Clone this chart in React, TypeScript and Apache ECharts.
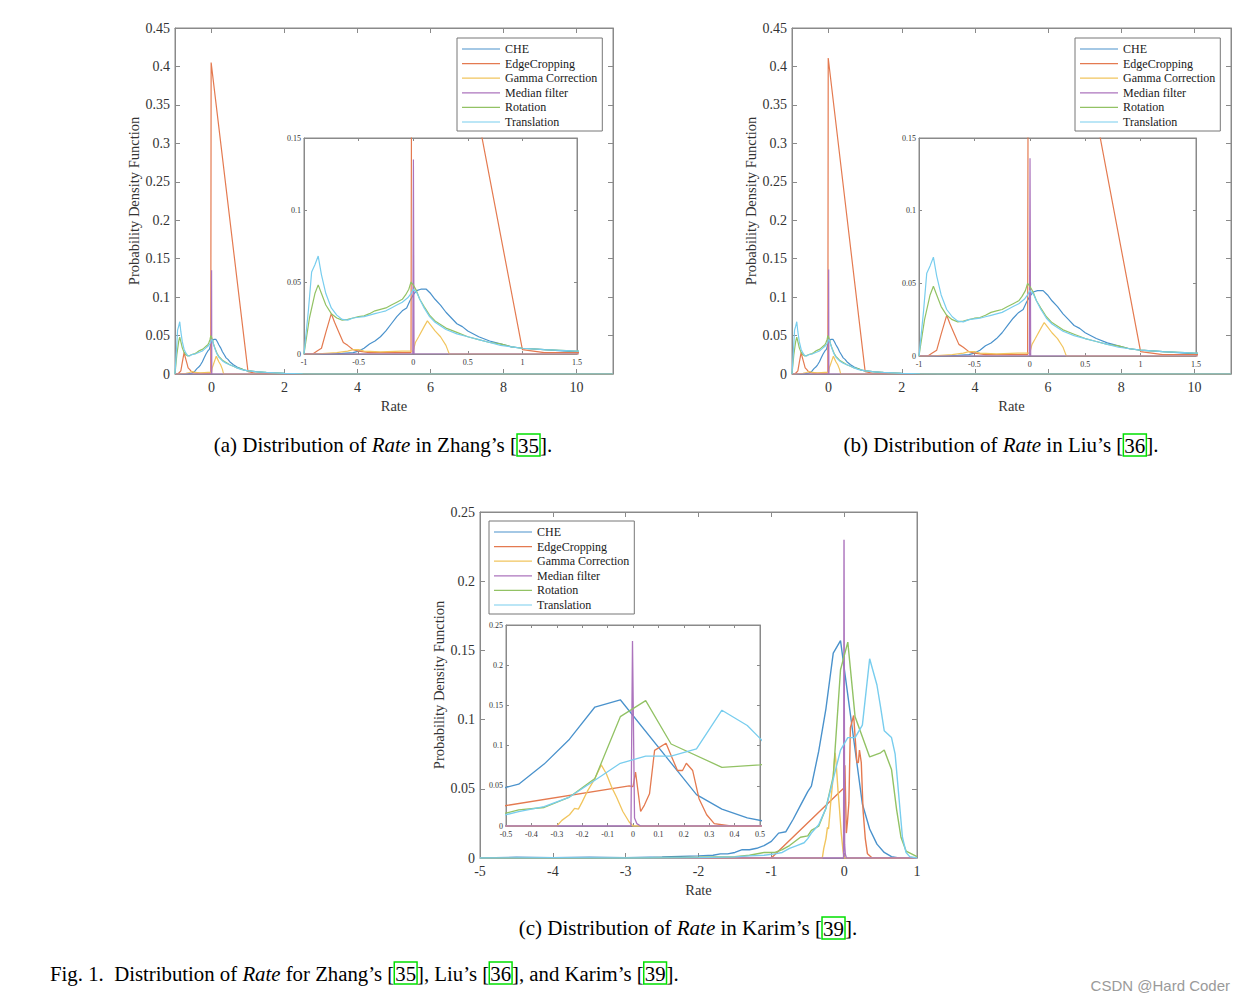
import React, { useEffect, useRef } from 'react';
import * as echarts from 'echarts';

const SERIES_NAMES = ['CHE', 'EdgeCropping', 'Gamma Correction', 'Median filter', 'Rotation', 'Translation'];
const COLORS = ['#4a92cc', '#e47a50', '#f1c55e', '#ac74bd', '#92c264', '#78cdee'];

// ---- Panel (a): Zhang's ----
const CHE_A = [[-1,0],[-0.8,0],[-0.65,0.0005],[-0.55,0.001],[-0.5,0.002],[-0.45,0.004],[-0.4,0.007],[-0.35,0.009],[-0.3,0.012],[-0.25,0.016],[-0.2,0.021],[-0.15,0.026],[-0.1,0.03],[-0.06,0.032],[-0.03,0.037],[0,0.041],[0.03,0.044],[0.07,0.045],[0.12,0.045],[0.16,0.042],[0.2,0.038],[0.25,0.034],[0.3,0.029],[0.35,0.025],[0.4,0.021],[0.45,0.019],[0.5,0.016],[0.6,0.012],[0.7,0.009],[0.8,0.007],[0.9,0.005],[1.0,0.004],[1.2,0.003],[1.5,0.0015],[2,0.0008],[2.5,0.0003],[3,0.0001],[4,0],[11,0]];
const EDGE_A = [[-1,0],[-0.92,0],[-0.88,0.002],[-0.84,0.004],[-0.8,0.015],[-0.75,0.028],[-0.72,0.022],[-0.68,0.015],[-0.64,0.008],[-0.6,0.006],[-0.55,0.003],[-0.5,0.002],[-0.4,0.001],[-0.2,0.001],[-0.02,0.001],[-0.01,0.405],[1.0,0.003],[1.2,0.001],[11,0]];
const GAMMA_A = [[-1,0],[-0.9,0],[-0.7,0.001],[-0.6,0.002],[-0.55,0.003],[-0.5,0.003],[-0.45,0.002],[-0.3,0.0015],[-0.1,0.002],[-0.02,0.002],[0,0.002],[0.02,0.008],[0.05,0.012],[0.1,0.019],[0.13,0.023],[0.16,0.02],[0.2,0.016],[0.25,0.012],[0.3,0.006],[0.32,0.002],[0.33,0],[11,0]];
const MEDIAN_A = [[-1,0],[-0.004,0],[0.002,0.135],[0.008,0],[11,0]];
const ROT_A = [[-1,0],[-0.95,0.025],[-0.9,0.042],[-0.87,0.048],[-0.84,0.042],[-0.8,0.034],[-0.75,0.028],[-0.7,0.025],[-0.65,0.0235],[-0.6,0.024],[-0.55,0.025],[-0.5,0.026],[-0.45,0.0265],[-0.4,0.028],[-0.35,0.03],[-0.3,0.031],[-0.25,0.032],[-0.2,0.034],[-0.15,0.036],[-0.1,0.038],[-0.07,0.041],[-0.04,0.045],[-0.02,0.05],[0,0.048],[0.03,0.044],[0.06,0.038],[0.1,0.033],[0.15,0.027],[0.2,0.023],[0.3,0.018],[0.4,0.015],[0.5,0.012],[0.6,0.01],[0.7,0.008],[0.8,0.007],[0.9,0.005],[1.0,0.004],[1.2,0.003],[1.5,0.002],[2,0.001],[2.5,0.0003],[3,0],[11,0]];
const TRANS_A = [[-1,0],[-0.96,0.03],[-0.93,0.057],[-0.9,0.062],[-0.87,0.068],[-0.84,0.055],[-0.8,0.042],[-0.75,0.032],[-0.7,0.027],[-0.65,0.024],[-0.6,0.0235],[-0.55,0.025],[-0.5,0.0255],[-0.45,0.026],[-0.4,0.027],[-0.35,0.028],[-0.3,0.029],[-0.25,0.03],[-0.2,0.032],[-0.15,0.034],[-0.1,0.036],[-0.05,0.039],[-0.02,0.042],[0,0.045],[0.03,0.043],[0.06,0.038],[0.1,0.032],[0.15,0.026],[0.2,0.022],[0.3,0.017],[0.4,0.014],[0.5,0.012],[0.6,0.01],[0.7,0.008],[0.8,0.006],[0.9,0.005],[1.0,0.004],[1.2,0.003],[1.5,0.002],[2,0.0008],[2.5,0.0003],[3,0],[11,0]];

// ---- Panel (b): Liu's ----
const CHE_B = CHE_A;
const EDGE_B = [[-1,0],[-0.92,0],[-0.88,0.002],[-0.84,0.004],[-0.8,0.015],[-0.75,0.028],[-0.72,0.022],[-0.68,0.015],[-0.64,0.008],[-0.6,0.006],[-0.55,0.003],[-0.5,0.002],[-0.4,0.001],[-0.2,0.001],[-0.02,0.001],[-0.01,0.411],[1.0,0.003],[1.2,0.001],[11,0]];
const GAMMA_B = GAMMA_A;
const MEDIAN_B = [[-1,0],[-0.004,0],[0.002,0.136],[0.008,0],[11,0]];
const ROT_B = ROT_A;
const TRANS_B = TRANS_A;

// ---- Panel (c): Karim's ----
const CHE_C = [[-5,0],[-4.5,0.0005],[-4,0.0003],[-3.5,0.0005],[-3,0.0003],[-2.5,0.0008],[-2,0.0015],[-1.8,0.002],[-1.7,0.003],[-1.6,0.003],[-1.5,0.004],[-1.4,0.006],[-1.3,0.006],[-1.2,0.007],[-1.1,0.009],[-1.0,0.012],[-0.9,0.018],[-0.8,0.019],[-0.7,0.028],[-0.6,0.038],[-0.5,0.048],[-0.45,0.052],[-0.35,0.077],[-0.25,0.108],[-0.15,0.148],[-0.05,0.157],[0.25,0.039],[0.35,0.021],[0.45,0.01],[0.55,0.004],[0.65,0.001],[0.75,0],[1,0]];
const EDGE_C = [[-5,0],[-1.0,0],[-0.015,0.05],[0,0.049],[0.01,0.067],[0.03,0.018],[0.045,0.026],[0.065,0.04],[0.085,0.094],[0.13,0.103],[0.155,0.084],[0.175,0.069],[0.195,0.069],[0.21,0.078],[0.235,0.069],[0.26,0.034],[0.29,0.014],[0.32,0.003],[0.385,0],[1,0]];
const GAMMA_C = [[-5,0],[-0.3,0],[-0.28,0.007],[-0.25,0.014],[-0.23,0.022],[-0.215,0.021],[-0.2,0.03],[-0.18,0.043],[-0.15,0.059],[-0.125,0.076],[-0.105,0.065],[-0.085,0.049],[-0.065,0.036],[-0.04,0.018],[-0.015,0.005],[0,0],[1,0]];
const MEDIAN_C = [[-5,0],[-0.008,0],[-0.002,0.23],[0.006,0.01],[0.015,0.003],[0.03,0],[1,0]];
const ROT_C = [[-5,0],[-3,0],[-2,0.0005],[-1.5,0.001],[-1.3,0.002],[-1.1,0.004],[-0.95,0.004],[-0.85,0.006],[-0.75,0.009],[-0.7,0.011],[-0.6,0.015],[-0.5,0.016],[-0.45,0.02],[-0.35,0.023],[-0.25,0.036],[-0.15,0.059],[-0.05,0.136],[0.05,0.156],[0.15,0.102],[0.35,0.073],[0.5,0.076],[0.55,0.078],[0.65,0.064],[0.72,0.035],[0.78,0.015],[0.85,0.005],[1.0,0.001]];
const TRANS_C = [[-5,0],[-4,0.0003],[-3,0],[-2,0.0003],[-1.5,0.0008],[-1.3,0.0015],[-1.1,0.002],[-0.95,0.003],[-0.85,0.004],[-0.75,0.007],[-0.65,0.009],[-0.55,0.011],[-0.5,0.014],[-0.45,0.018],[-0.35,0.024],[-0.25,0.036],[-0.15,0.057],[-0.05,0.078],[0.05,0.087],[0.15,0.087],[0.25,0.096],[0.35,0.144],[0.45,0.125],[0.5,0.109],[0.55,0.092],[0.65,0.087],[0.7,0.075],[0.75,0.045],[0.8,0.015],[0.85,0.004],[0.9,0.001],[1.0,0]];

const DATA_A = [CHE_A, EDGE_A, GAMMA_A, MEDIAN_A, ROT_A, TRANS_A];
const DATA_B = [CHE_B, EDGE_B, GAMMA_B, MEDIAN_B, ROT_B, TRANS_B];
const DATA_C = [CHE_C, EDGE_C, GAMMA_C, MEDIAN_C, ROT_C, TRANS_C];

const MAIN_X_TICKS_AB = [0, 2, 4, 6, 8, 10];

const AX = '#8a8a8a';
const LABEL = '#333';
const SERIF = "'Liberation Serif', 'Times New Roman', serif";

type Panel = {
  grid: { left: number; top: number; width: number; height: number };
  x: { min: number; max: number; interval?: number; custom?: number[] };
  y: { min: number; max: number; interval: number };
  data: number[][][];
  inset: boolean;
  lw: number;
};

const PANELS: Panel[] = [
  { grid: { left: 175, top: 28, width: 438, height: 346 }, x: { min: -1, max: 11, custom: MAIN_X_TICKS_AB }, y: { min: 0, max: 0.45, interval: 0.05 }, data: DATA_A, inset: false, lw: 1.2 },
  { grid: { left: 304, top: 138, width: 273, height: 216 }, x: { min: -1, max: 1.5, interval: 0.5 }, y: { min: 0, max: 0.15, interval: 0.05 }, data: DATA_A, inset: true, lw: 1.2 },
  { grid: { left: 792, top: 28, width: 439, height: 346 }, x: { min: -1, max: 11, custom: MAIN_X_TICKS_AB }, y: { min: 0, max: 0.45, interval: 0.05 }, data: DATA_B, inset: false, lw: 1.2 },
  { grid: { left: 919, top: 138, width: 277, height: 218 }, x: { min: -1, max: 1.5, interval: 0.5 }, y: { min: 0, max: 0.15, interval: 0.05 }, data: DATA_B, inset: true, lw: 1.2 },
  { grid: { left: 480, top: 512, width: 437, height: 346 }, x: { min: -5, max: 1, interval: 1 }, y: { min: 0, max: 0.25, interval: 0.05 }, data: DATA_C, inset: false, lw: 1.4 },
  { grid: { left: 506, top: 625, width: 254, height: 201 }, x: { min: -0.5, max: 0.5, interval: 0.1 }, y: { min: 0, max: 0.25, interval: 0.05 }, data: DATA_C, inset: true, lw: 1.3 },
];

const LEGEND_POS = [[457, 38], [1075, 38], [489, 521]];

function buildOption() {
  const grids: any[] = [];
  const xAxes: any[] = [];
  const yAxes: any[] = [];
  const series: any[] = [];

  PANELS.forEach((p, i) => {
    grids.push({
      ...p.grid,
      show: true,
      backgroundColor: '#fff',
      borderColor: AX,
      borderWidth: 1,
      outerBoundsMode: 'none',
      containLabel: false,
      z: p.inset ? 3 : 0,
    });
    const tickLen = p.inset ? 3 : 5;
    const fs = p.inset ? 8 : 14;
    const z = p.inset ? 4 : 0;
    const xBase: any = {
      type: 'value', gridIndex: i, min: p.x.min, max: p.x.max, z,
      axisLine: { show: true, onZero: false, lineStyle: { color: AX, width: 1 } },
      axisTick: { show: true, inside: true, length: tickLen, lineStyle: { color: AX } },
      splitLine: { show: false },
    };
    if (p.x.interval !== undefined) xBase.interval = p.x.interval;
    if (p.x.custom) xBase.axisTick.customValues = p.x.custom;
    xAxes.push({
      ...xBase,
      position: 'bottom',
      axisLabel: {
        show: true, color: LABEL, fontFamily: SERIF, fontSize: fs, margin: p.inset ? 4 : 6,
        showMinLabel: true, showMaxLabel: true,
        ...(p.x.custom ? { customValues: p.x.custom } : {}),
      },
      ...(p.inset ? {} : {
        name: 'Rate', nameLocation: 'middle', nameGap: 24,
        nameTextStyle: { fontFamily: SERIF, fontSize: 14.5, color: LABEL },
      }),
    });
    xAxes.push({ ...xBase, position: 'top', axisLabel: { show: false } });

    const yBase: any = {
      type: 'value', gridIndex: i, min: p.y.min, max: p.y.max, interval: p.y.interval, z,
      axisLine: { show: true, onZero: false, lineStyle: { color: AX, width: 1 } },
      axisTick: { show: true, inside: true, length: tickLen, lineStyle: { color: AX } },
      splitLine: { show: false },
    };
    yAxes.push({
      ...yBase,
      position: 'left',
      axisLabel: { show: true, color: LABEL, fontFamily: SERIF, fontSize: fs, margin: p.inset ? 3 : 5, showMinLabel: true, showMaxLabel: true },
      ...(p.inset ? {} : {
        name: 'Probability Density Function', nameLocation: 'middle', nameGap: 32,
        nameTextStyle: { fontFamily: SERIF, fontSize: 14.5, color: LABEL },
      }),
    });
    yAxes.push({ ...yBase, position: 'right', axisLabel: { show: false } });

    p.data.forEach((d, k) => {
      series.push({
        type: 'line',
        name: SERIES_NAMES[k],
        xAxisIndex: 2 * i,
        yAxisIndex: 2 * i,
        data: d,
        symbol: 'none',
        showSymbol: false,
        clip: true,
        silent: true,
        z: p.inset ? 5 : 2,
        lineStyle: { color: COLORS[k], width: p.lw },
        itemStyle: { color: COLORS[k] },
      });
    });
  });

  const legends = LEGEND_POS.map((pos) => ({
    orient: 'vertical',
    left: pos[0],
    top: pos[1],
    data: SERIES_NAMES,
    selectedMode: false,
    icon: 'rect',
    backgroundColor: '#fff',
    borderColor: '#777',
    borderWidth: 1,
    borderRadius: 0,
    padding: [5, 5, 3, 5],
    itemGap: 2.6,
    itemWidth: 38,
    itemHeight: 1.2,
    textStyle: { fontFamily: SERIF, fontSize: 12, color: '#1a1a1a', lineHeight: 12 },
    z: 10,
  }));

  const mkRich = (fs: number) => ({
    n: { fontFamily: SERIF, fontSize: fs, fill: '#000', color: '#000' },
    i: { fontFamily: SERIF, fontSize: fs, fontStyle: 'italic', fill: '#000', color: '#000' },
    b: { fontFamily: SERIF, fontSize: fs, fill: '#000', color: '#000', borderColor: '#00e000', borderWidth: 1.5, padding: [1, 1, 0, 1] },
  });
  const caption = (x: number, y: number, text: string, align: string, fs: number) => ({
    type: 'text', x, y, silent: true, z: 20,
    style: { text, rich: mkRich(fs), textAlign: align, textVerticalAlign: 'middle', font: `${fs}px ${SERIF}` },
  });

  const graphic = [
    caption(383, 445, '{n|(a) Distribution of }{i|Rate}{n| in Zhang’s [}{b|35}{n|].}', 'center', 21),
    caption(1001, 445, '{n|(b) Distribution of }{i|Rate}{n| in Liu’s [}{b|36}{n|].}', 'center', 21),
    caption(688, 928, '{n|(c) Distribution of }{i|Rate}{n| in Karim’s [}{b|39}{n|].}', 'center', 21),
    caption(50, 973, '{n|Fig. 1.  Distribution of }{i|Rate}{n| for Zhang’s [}{b|35}{n|], Liu’s [}{b|36}{n|], and Karim’s [}{b|39}{n|].}', 'left', 20.8),
    {
      type: 'text', x: 1230, y: 985, silent: true, z: 20,
      style: { text: 'CSDN @Hard Coder', textAlign: 'right', textVerticalAlign: 'middle', font: "15px 'Liberation Sans', Arial, sans-serif", fill: '#9a9a9a' },
    },
  ];

  return {
    animation: false,
    backgroundColor: '#fff',
    grid: grids,
    xAxis: xAxes,
    yAxis: yAxes,
    legend: legends,
    series,
    graphic,
  };
}

export default function App() {
  const ref = useRef<HTMLDivElement>(null);
  useEffect(() => {
    if (!ref.current) return;
    const chart = echarts.init(ref.current, null, { renderer: 'svg' });
    chart.setOption(buildOption() as any);
    return () => chart.dispose();
  }, []);
  return (
    <div
      ref={ref}
      style={{ position: 'fixed', left: 0, top: 0, width: 1246, height: 1001, background: '#fff' }}
    />
  );
}
